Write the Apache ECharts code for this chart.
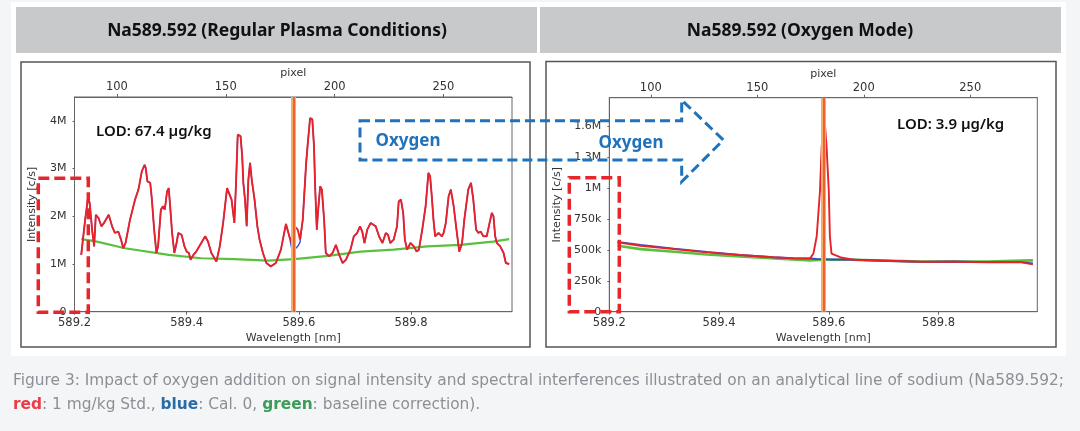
<!DOCTYPE html>
<html lang="en">
<head>
<meta charset="UTF-8">
<title>Na589.592</title>
<style>
    html, body { margin: 0; padding: 0; background: #f4f5f6; }
    #chart { width: 1080px; height: 431px; }
</style>
</head>
<body>
<div id="chart"></div>
<script src="https://cdn.jsdelivr.net/npm/echarts@6/dist/echarts.min.js"></script>
<script>
// Na line position [nm]
var naLine = 589.592;

// Regular plasma: wavelength [nm], intensity [M c/s]
var wlLeft = [589.212,589.219,589.224,589.227,589.230,589.232,589.235,589.238,589.243,589.248,589.252,589.261,589.267,589.272,589.278,589.283,589.287,589.291,589.299,589.308,589.314,589.320,589.325,589.327,589.330,589.335,589.338,589.342,589.346,589.349,589.354,589.358,589.361,589.365,589.368,589.371,589.374,589.378,589.382,589.385,589.391,589.396,589.400,589.404,589.407,589.412,589.417,589.426,589.433,589.438,589.444,589.453,589.459,589.465,589.472,589.475,589.480,589.485,589.488,589.491,589.496,589.499,589.501,589.504,589.507,589.510,589.513,589.516,589.521,589.526,589.530,589.536,589.542,589.550,589.559,589.568,589.577,589.583,589.589,589.592,589.598,589.602,589.607,589.613,589.616,589.620,589.624,589.627,589.629,589.632,589.634,589.638,589.641,589.645,589.648,589.654,589.660,589.666,589.672,589.678,589.684,589.692,589.698,589.704,589.709,589.713,589.717,589.722,589.728,589.737,589.743,589.749,589.755,589.759,589.763,589.769,589.775,589.778,589.782,589.786,589.789,589.793,589.799,589.805,589.810,589.814,589.820,589.826,589.831,589.834,589.837,589.840,589.843,589.849,589.855,589.858,589.862,589.867,589.871,589.876,589.881,589.886,589.891,589.895,589.902,589.907,589.911,589.916,589.920,589.924,589.929,589.935,589.940,589.944,589.947,589.950,589.953,589.959,589.965,589.969,589.975];
var redLeft = [1.19,1.93,2.38,2.28,2.30,1.65,1.37,2.03,1.96,1.79,1.85,2.03,1.79,1.65,1.68,1.51,1.33,1.44,1.93,2.35,2.56,2.94,3.08,3.01,2.73,2.70,2.35,1.72,1.23,1.37,2.14,2.21,2.14,2.52,2.59,2.14,1.65,1.23,1.44,1.65,1.61,1.37,1.26,1.23,1.09,1.19,1.26,1.44,1.58,1.47,1.23,1.05,1.37,1.86,2.59,2.59,2.35,1.86,2.70,3.71,3.68,3.26,2.70,2.35,1.79,2.77,3.12,2.77,2.35,1.79,1.51,1.23,1.02,0.95,1.02,1.30,1.84,1.58,1.40,1.79,1.72,1.51,1.93,3.12,3.54,4.06,4.03,3.47,2.63,1.72,2.07,2.63,2.56,1.93,1.23,1.16,1.23,1.40,1.19,1.02,1.09,1.30,1.58,1.65,1.79,1.68,1.44,1.72,1.86,1.79,1.58,1.44,1.65,1.61,1.44,1.51,1.79,2.31,2.35,2.07,1.51,1.30,1.44,1.37,1.26,1.30,1.72,2.21,2.91,2.84,2.42,1.93,1.58,1.65,1.58,1.65,1.86,2.42,2.56,2.21,1.72,1.26,1.44,1.93,2.56,2.70,2.35,1.72,1.65,1.68,1.58,1.58,1.86,2.07,2.00,1.58,1.44,1.37,1.23,1.02,1.00];
var blueLeft = [1.19,1.93,2.38,2.28,2.30,1.65,1.37,2.03,1.96,1.79,1.85,2.03,1.79,1.65,1.68,1.51,1.33,1.44,1.93,2.35,2.56,2.94,3.08,3.01,2.73,2.70,2.35,1.72,1.23,1.37,2.14,2.21,2.14,2.52,2.59,2.14,1.65,1.23,1.44,1.65,1.61,1.37,1.26,1.23,1.09,1.19,1.26,1.44,1.58,1.47,1.23,1.05,1.37,1.86,2.59,2.59,2.35,1.86,2.70,3.71,3.68,3.26,2.70,2.35,1.79,2.77,3.12,2.77,2.35,1.79,1.51,1.23,1.02,0.95,1.02,1.30,1.84,1.58,1.23,1.30,1.37,1.45,1.93,3.12,3.54,4.06,4.03,3.47,2.63,1.72,2.07,2.63,2.56,1.93,1.23,1.16,1.23,1.40,1.19,1.02,1.09,1.30,1.58,1.65,1.79,1.68,1.44,1.72,1.86,1.79,1.58,1.44,1.65,1.61,1.44,1.51,1.79,2.31,2.35,2.07,1.51,1.30,1.44,1.37,1.26,1.30,1.72,2.21,2.91,2.84,2.42,1.93,1.58,1.65,1.58,1.65,1.86,2.42,2.56,2.21,1.72,1.26,1.44,1.93,2.56,2.70,2.35,1.72,1.65,1.68,1.58,1.58,1.86,2.07,2.00,1.58,1.44,1.37,1.23,1.02,1.00];
var wlBaseLeft = [589.212,589.236,589.290,589.368,589.426,589.485,589.545,589.592,589.652,589.710,589.769,589.829,589.888,589.946,589.975];
var greenLeft = [1.52,1.48,1.33,1.19,1.12,1.10,1.07,1.10,1.17,1.26,1.30,1.37,1.40,1.47,1.52];

// Oxygen mode: wavelength [nm], intensity [M c/s]
var wlRight = [589.215,589.257,589.318,589.378,589.438,589.499,589.536,589.566,589.572,589.578,589.584,589.587,589.592,589.596,589.600,589.602,589.605,589.624,589.648,589.709,589.769,589.829,589.890,589.951,589.972];
var redRight = [0.560,0.533,0.506,0.480,0.458,0.440,0.431,0.431,0.470,0.610,0.980,1.330,1.575,1.330,0.980,0.610,0.470,0.436,0.418,0.412,0.404,0.404,0.399,0.399,0.383];
var blueRight = [0.565,0.540,0.510,0.483,0.460,0.440,0.432,0.430,0.428,0.426,0.425,0.425,0.425,0.424,0.423,0.423,0.422,0.422,0.420,0.410,0.402,0.406,0.400,0.401,0.390];
var wlBaseRight = [589.215,589.257,589.318,589.378,589.438,589.518,589.566,589.592,589.648,589.769,589.890,589.951,589.972];
var greenRight = [0.533,0.506,0.485,0.463,0.446,0.426,0.415,0.420,0.420,0.405,0.405,0.413,0.415];

// tick labels
var wlTicks = [589.2, 589.4, 589.6, 589.8];
var pixelTicks = [100, 150, 200, 250];
var yTicksLeft = [0, 1, 2, 3, 4];
var yLabelsLeft = ['0', '1M', '2M', '3M', '4M'];
var yTicksRight = [0, 0.25, 0.5, 0.75, 1, 1.25, 1.5];
var yLabelsRight = ['0', '250k', '500k', '750k', '1M', '1.3M', '1.6M'];

function pairs(xs, ys) {
    return xs.map(function (x, i) { return [x, ys[i]]; });
}

var axisFont = 'DejaVu Sans';
var axisColor = '#666';
var labelColor = '#333';

function wlAxis(grid) {
    return {
        type: 'value', gridIndex: grid, position: 'bottom',
        min: 589.2, max: 589.98,
        name: 'Wavelength [nm]', nameLocation: 'middle', nameGap: 21,
        nameTextStyle: { fontFamily: axisFont, fontSize: 11, color: labelColor },
        axisLine: { show: true, lineStyle: { color: axisColor } },
        axisTick: { show: true, length: 3, customValues: wlTicks, lineStyle: { color: axisColor } },
        axisLabel: {
            customValues: wlTicks, margin: 5,
            fontFamily: axisFont, fontSize: 11.5, color: labelColor,
            formatter: function (v) { return v.toFixed(1); }
        },
        splitLine: { show: false }
    };
}

function pixelAxis(grid) {
    return {
        type: 'value', gridIndex: grid, position: 'top',
        min: 80.5, max: 281.5,
        name: 'pixel', nameLocation: 'middle', nameGap: 18,
        nameTextStyle: { fontFamily: axisFont, fontSize: 11, color: labelColor },
        axisLine: { show: true, lineStyle: { color: axisColor } },
        axisTick: { show: true, length: 3, customValues: pixelTicks, lineStyle: { color: axisColor } },
        axisLabel: {
            customValues: pixelTicks, margin: 4,
            fontFamily: axisFont, fontSize: 11.5, color: labelColor
        },
        splitLine: { show: false }
    };
}

function intensityAxis(grid, max, ticks, labels, gap) {
    return {
        type: 'value', gridIndex: grid,
        min: 0, max: max,
        name: 'Intensity [c/s]', nameLocation: 'middle', nameGap: gap, nameRotate: 90,
        nameTextStyle: { fontFamily: axisFont, fontSize: 11, color: labelColor },
        axisLine: { show: true, lineStyle: { color: axisColor } },
        axisTick: { show: true, length: 2, customValues: ticks, lineStyle: { color: axisColor } },
        axisLabel: {
            customValues: ticks, margin: 8, padding: [0, 0, 8, 0],
            fontFamily: axisFont, fontSize: 11, color: labelColor,
            formatter: function (v) {
                var i = ticks.indexOf(v);
                return i < 0 ? '' : labels[i];
            }
        },
        splitLine: { show: false }
    };
}

function naMark() {
    return {
        silent: true, symbol: 'none', label: { show: false },
        data: [
            { xAxis: naLine, lineStyle: { color: '#f7ad6a', width: 5, type: 'solid' } },
            { xAxis: naLine, lineStyle: { color: '#ea5120', width: 1.6, type: 'solid' } }
        ]
    };
}

function spectrum(name, xi, data, color, width, mark) {
    var s = {
        name: name, type: 'line', xAxisIndex: xi, yAxisIndex: xi / 2 | 0,
        data: data, showSymbol: false, animation: false,
        lineStyle: { color: color, width: width },
        itemStyle: { color: color }
    };
    if (mark) s.markLine = naMark();
    return s;
}

var chart = echarts.init(document.getElementById('chart'));

var blue = '#1f72bb';
var red = '#e5262b';
var titleFont = '"Noto Sans", sans-serif';
var capFont = '"DejaVu Sans", sans-serif';

var option = {
    animation: false,
    backgroundColor: '#f4f5f6',
    grid: [
        { left: 74.5, top: 97, width: 437.5, height: 214.7, show: true, borderColor: axisColor, borderWidth: 1, backgroundColor: '#fff' },
        { left: 609.3, top: 97.7, width: 428, height: 214, show: true, borderColor: axisColor, borderWidth: 1, backgroundColor: '#fff' }
    ],
    xAxis: [wlAxis(0), pixelAxis(0), wlAxis(1), pixelAxis(1)],
    yAxis: [
        intensityAxis(0, 4.5, yTicksLeft, yLabelsLeft, 37),
        intensityAxis(1, 1.73, yTicksRight, yLabelsRight, 47)
    ],
    series: [
        spectrum('baseline', 0, pairs(wlBaseLeft, greenLeft), '#5cc03f', 2.2, true),
        spectrum('Cal. 0', 0, pairs(wlLeft, blueLeft), '#3b48c6', 1.4),
        spectrum('1 mg/kg Std.', 0, pairs(wlLeft, redLeft), '#e8222a', 1.9),
        spectrum('baseline', 2, pairs(wlBaseRight, greenRight), '#5cc03f', 2.6, true),
        spectrum('Cal. 0', 2, pairs(wlRight, blueRight), '#3b48c6', 1.8),
        spectrum('1 mg/kg Std.', 2, pairs(wlRight, redRight), '#e8222a', 1.9)
    ],
    graphic: {
        elements: [
            // white figure panel and grey headers
            { type: 'rect', z: -10, shape: { x: 11, y: 2, width: 1055, height: 354 }, style: { fill: '#fff' } },
            { type: 'rect', z: -9, shape: { x: 16, y: 7, width: 521, height: 46 }, style: { fill: '#c8c9ca' } },
            { type: 'rect', z: -9, shape: { x: 540, y: 7, width: 521, height: 46 }, style: { fill: '#c8c9ca' } },
            { type: 'text', z: 5, x: 277, y: 31, style: { text: 'Na589.592 (Regular Plasma Conditions)', fill: '#111', font: 'bold 17.5px ' + titleFont, align: 'center', verticalAlign: 'middle' } },
            { type: 'text', z: 5, x: 800, y: 31, style: { text: 'Na589.592 (Oxygen Mode)', fill: '#111', font: 'bold 17.5px ' + titleFont, align: 'center', verticalAlign: 'middle' } },
            // chart frames
            { type: 'rect', z: -8, shape: { x: 21, y: 62, width: 509, height: 285 }, style: { fill: '#fff', stroke: '#555', lineWidth: 1.5 } },
            { type: 'rect', z: -8, shape: { x: 546, y: 61.5, width: 510, height: 285.5 }, style: { fill: '#fff', stroke: '#555', lineWidth: 1.5 } },
            // LOD notes
            { type: 'text', z: 50, x: 96, y: 132, style: { text: 'LOD: 67.4 µg/kg', fill: '#111', font: '600 15px ' + titleFont, align: 'left', verticalAlign: 'middle' } },
            { type: 'text', z: 50, x: 897, y: 125, style: { text: 'LOD: 3.9 µg/kg', fill: '#111', font: '600 15px ' + titleFont, align: 'left', verticalAlign: 'middle' } },
            // oxygen arrow
            {
                type: 'polygon', z: 100,
                shape: { points: [[360, 120.7], [681.7, 120.7], [681.7, 100], [723.3, 140], [681.7, 181.7], [681.7, 160], [360, 160]] },
                style: { fill: 'none', stroke: blue, lineWidth: 3, lineDash: [10, 5] }
            },
            { type: 'text', z: 101, x: 408, y: 141.5, style: { text: 'Oxygen', fill: blue, font: 'bold 17px ' + titleFont, align: 'center', verticalAlign: 'middle' } },
            { type: 'text', z: 101, x: 631, y: 143, style: { text: 'Oxygen', fill: blue, font: 'bold 17px ' + titleFont, align: 'center', verticalAlign: 'middle' } },
            // red dashed boxes round the low intensity range
            { type: 'rect', z: 100, shape: { x: 38.3, y: 178.3, width: 50, height: 134 }, style: { fill: 'none', stroke: red, lineWidth: 3.5, lineDash: [11, 5] } },
            { type: 'rect', z: 100, shape: { x: 569.3, y: 177.7, width: 50, height: 134 }, style: { fill: 'none', stroke: red, lineWidth: 3.5, lineDash: [11, 5] } },
            // caption
            {
                type: 'text', z: 5, x: 13, y: 369,
                style: {
                    text: '{g|Figure 3: Impact of oxygen addition on signal intensity and spectral interferences illustrated on an analytical line of sodium (Na589.592;}\n' +
                          '{r|red}{g|: 1 mg/kg Std., }{b|blue}{g|: Cal. 0, }{n|green}{g|: baseline correction).}',
                    align: 'left', verticalAlign: 'top',
                    rich: {
                        g: { fontFamily: capFont, fontSize: 15.4, fill: '#8a9096', lineHeight: 24 },
                        r: { fontFamily: capFont, fontSize: 15.4, fill: '#ea3d48', fontWeight: 'bold', lineHeight: 24 },
                        b: { fontFamily: capFont, fontSize: 15.4, fill: '#2a6ca6', fontWeight: 'bold', lineHeight: 24 },
                        n: { fontFamily: capFont, fontSize: 15.4, fill: '#3c9c5a', fontWeight: 'bold', lineHeight: 24 }
                    }
                }
            }
        ]
    }
};

chart.setOption(option);
</script>
</body>
</html>
